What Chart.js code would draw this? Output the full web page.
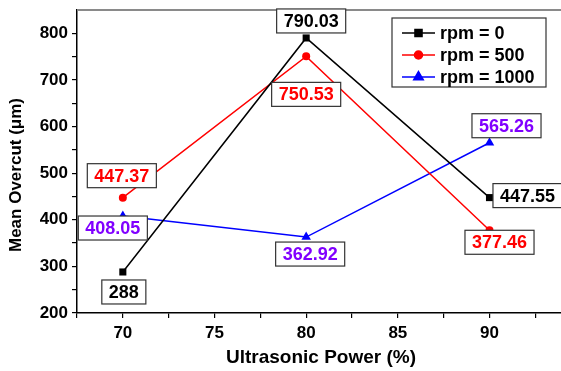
<!DOCTYPE html>
<html>
<head>
<meta charset="utf-8">
<script src="https://cdn.jsdelivr.net/npm/chart.js@4"></script>
<style>
  html, body { margin: 0; padding: 0; background: #fff; }
  #wrap { width: 561px; height: 371px; }
</style>
</head>
<body>
<div id="wrap"><canvas id="chart" width="561" height="371"></canvas></div>
<script>
// 数据
const powerValues = [70, 80, 90];
const rpm0 = [288, 790.03, 447.55];
const rpm500 = [447.37, 750.53, 377.46];
const rpm1000 = [408.05, 362.92, 565.26];
const seriesNames = ['rpm = 0', 'rpm = 500', 'rpm = 1000'];
const xTickValues = [67.5, 70, 72.5, 75, 77.5, 80, 82.5, 85, 87.5, 90, 92.5];
const yTickValues = [200, 250, 300, 350, 400, 450, 500, 550, 600, 650, 700, 750, 800];

// 数值标签的偏移 (像素) 和颜色
const labelOffsets = [
    [[1, 20], [5, -17], [38, -2]],
    [[-1, -22], [0, 38], [10, 12]],
    [[-10, 12], [4, 17], [17, -17]]
];
const labelColors = ['#000000', '#ff0000', '#8000ff'];

const FONT = '"Liberation Sans", Arial, sans-serif';

function toPoints(values) {
    return values.map((v, i) => ({ x: powerValues[i], y: v }));
}

// 自定义绘制: 上边框, 标签框, 图例, 轴标题
const decorPlugin = {
    id: 'decor',
    afterDatasetsDraw(chart) {
        const ctx = chart.ctx;
        const area = chart.chartArea;
        const xs = chart.scales.x;
        const ys = chart.scales.y;

        // 上边框 (灰色)
        ctx.save();
        ctx.strokeStyle = '#8a8a8a';
        ctx.lineWidth = 2;
        ctx.beginPath();
        ctx.moveTo(area.left, area.top);
        ctx.lineTo(chart.width, area.top);
        ctx.stroke();

        // 数值标签
        ctx.font = 'bold 18px ' + FONT;
        ctx.textAlign = 'center';
        ctx.textBaseline = 'middle';
        [rpm0, rpm500, rpm1000].forEach((series, s) => {
            series.forEach((v, i) => {
                const px = xs.getPixelForValue(powerValues[i]) + labelOffsets[s][i][0];
                const py = ys.getPixelForValue(v) + labelOffsets[s][i][1];
                const text = String(v);
                const w = ctx.measureText(text).width + 14;
                const h = 24;
                ctx.fillStyle = '#ffffff';
                ctx.fillRect(px - w / 2, py - h / 2, w, h);
                ctx.strokeStyle = '#333333';
                ctx.lineWidth = 1.2;
                ctx.strokeRect(px - w / 2, py - h / 2, w, h);
                ctx.fillStyle = labelColors[s];
                ctx.fillText(text, px, py + 1);
            });
        });

        // 图例
        const lx = 392, ly = 18, lw = 154, lh = 69;
        ctx.fillStyle = '#ffffff';
        ctx.fillRect(lx, ly, lw, lh);
        ctx.strokeStyle = '#333333';
        ctx.lineWidth = 1.2;
        ctx.strokeRect(lx, ly, lw, lh);
        ctx.textAlign = 'left';
        chart.data.datasets.forEach((ds, i) => {
            const rowY = 33 + i * 22;
            ctx.strokeStyle = ds.borderColor;
            ctx.lineWidth = 1.5;
            ctx.beginPath();
            ctx.moveTo(402, rowY);
            ctx.lineTo(435, rowY);
            ctx.stroke();
            Chart.helpers.drawPoint(ctx, {
                pointStyle: ds.pointStyle,
                radius: ds.pointRadius,
                borderWidth: 1
            }, 418.5, rowY);
            ctx.fillStyle = ds.borderColor;
            ctx.fill();
            ctx.fillStyle = '#000000';
            ctx.font = 'bold 18px ' + FONT;
            ctx.fillText(ds.label, 440, rowY + 1);
        });

        // 轴标题
        ctx.fillStyle = '#000000';
        ctx.textAlign = 'center';
        ctx.font = 'bold 19px ' + FONT;
        ctx.fillText('Ultrasonic Power (%)', 321, 358);
        ctx.translate(16, 175);
        ctx.rotate(-Math.PI / 2);
        ctx.font = 'bold 17px ' + FONT;
        ctx.fillText('Mean Overcut (\u03bcm)', 0, 0);
        ctx.restore();
    }
};

const ctx = document.getElementById('chart').getContext('2d');
const chart = new Chart(ctx, {
    type: 'line',
    data: {
        datasets: [
            {
                label: seriesNames[0],
                data: toPoints(rpm0),
                borderColor: '#000000',
                backgroundColor: '#000000',
                borderWidth: 1.5,
                pointStyle: 'rect',
                pointRadius: 5,
                pointBorderWidth: 0,
                tension: 0
            },
            {
                label: seriesNames[1],
                data: toPoints(rpm500),
                borderColor: '#ff0000',
                backgroundColor: '#ff0000',
                borderWidth: 1.5,
                pointStyle: 'circle',
                pointRadius: 4,
                pointBorderWidth: 0,
                tension: 0
            },
            {
                label: seriesNames[2],
                data: toPoints(rpm1000),
                borderColor: '#0000ff',
                backgroundColor: '#0000ff',
                borderWidth: 1.5,
                pointStyle: 'triangle',
                pointRadius: 5.5,
                pointBorderWidth: 0,
                tension: 0
            }
        ]
    },
    options: {
        responsive: false,
        animation: false,
        layout: { autoPadding: false, padding: { left: 0, top: 10, right: 0, bottom: 0 } },
        plugins: {
            legend: { display: false },
            tooltip: { enabled: false }
        },
        scales: {
            x: {
                type: 'linear',
                min: 67.5,
                max: 93.9,
                afterBuildTicks: scale => {
                    scale.ticks = xTickValues.map(v => ({ value: v }));
                },
                afterFit: scale => {
                    scale.height = 58;
                    scale.paddingLeft = 0;
                    scale.paddingRight = 0;
                },
                ticks: {
                    autoSkip: false,
                    maxRotation: 0,
                    padding: 5,
                    color: '#000000',
                    font: { family: FONT, size: 17, weight: 'bold' },
                    callback: v => (v % 5 === 0 ? String(v) : '')
                },
                grid: {
                    drawOnChartArea: false,
                    drawTicks: true,
                    tickLength: 5,
                    color: '#000000',
                    lineWidth: 1.2
                },
                border: { display: true, color: '#000000', width: 1.5 }
            },
            y: {
                min: 200,
                max: 850,
                afterBuildTicks: scale => {
                    scale.ticks = yTickValues.map(v => ({ value: v }));
                },
                afterFit: scale => {
                    scale.width = 77;
                    scale.paddingTop = 0;
                    scale.paddingBottom = 0;
                },
                ticks: {
                    autoSkip: false,
                    padding: 4,
                    color: '#000000',
                    font: { family: FONT, size: 17, weight: 'bold' },
                    callback: v => (v % 100 === 0 ? String(v) : '')
                },
                grid: {
                    drawOnChartArea: false,
                    drawTicks: true,
                    tickLength: 5,
                    color: '#000000',
                    lineWidth: 1.2
                },
                border: { display: true, color: '#000000', width: 1.5 }
            }
        }
    },
    plugins: [decorPlugin]
});
</script>
</body>
</html>
